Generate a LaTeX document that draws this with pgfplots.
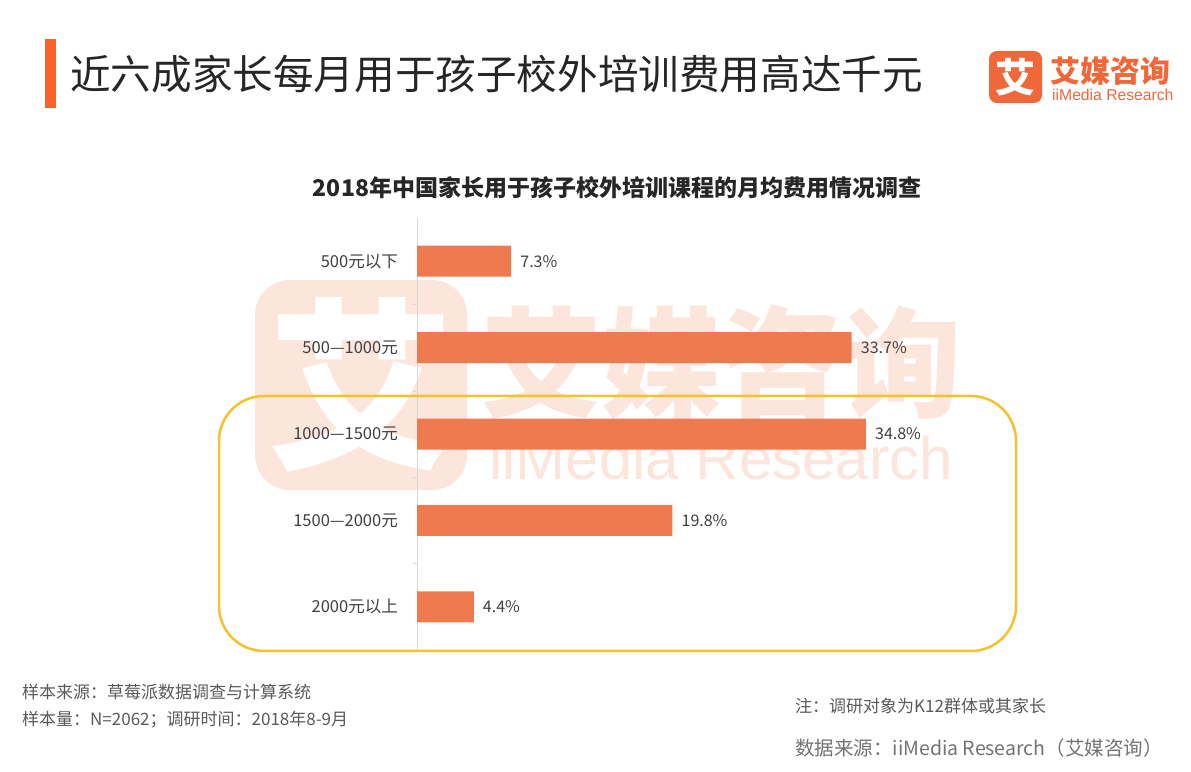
\documentclass[border=0pt]{standalone}
\usepackage{pgfplots}
\pgfplotsset{compat=1.18}
\usepackage{fontspec}
\setmainfont{Noto Sans CJK SC}
\newfontfamily\arial{Liberation Sans}
\definecolor{barc}{RGB}{240,122,80}
\definecolor{titlebar}{RGB}{247,99,45}
\definecolor{logoc}{RGB}{240,104,58}
\definecolor{wm}{RGB}{252,230,220}
\definecolor{wmt}{RGB}{252,229,218}
\definecolor{goldc}{RGB}{247,193,46}
\definecolor{axisgray}{RGB}{217,217,217}
\definecolor{titletext}{RGB}{38,38,38}
\definecolor{labtext}{RGB}{64,64,64}
\definecolor{foot}{RGB}{90,90,90}
\begin{document}
\begin{tikzpicture}[x=1pt,y=1pt]
\path[fill=white] (0,0) rectangle (1191,771);
% title
\fill[titlebar] (45,663) rectangle (56,732);
\node[anchor=west, inner sep=0pt, text=titletext, font=\fontsize{40.6}{46}\selectfont] at (70,697) {近六成家长每月用于孩子校外培训费用高达千元};
% logo
\fill[logoc, rounded corners=8pt] (989,668) rectangle (1042,720);
\node[text=white, font=\fontsize{40}{44}\selectfont\bfseries, inner sep=0pt] at (1015.5,694) {艾};
\node[anchor=west, inner sep=0pt, text=logoc, font=\fontsize{30}{34}\selectfont\bfseries] at (1050,700) {艾媒咨询};
\node[anchor=base west, inner sep=0pt, text=logoc, font=\arial\fontsize{15.7}{18}\selectfont] at (1052,670) {iiMedia Research};
% subtitle
\node[inner sep=0pt, text=titletext, font=\fontsize{23}{27}\selectfont\bfseries] at (617,583) {2018年中国家长用于孩子校外培训课程的月均费用情况调查};
% watermark
\fill[wm, rounded corners=35pt] (255,281) rectangle (467,491);
\node[text=white, font=\fontsize{185}{190}\selectfont\bfseries, inner sep=0pt] at (361,386) {艾};
\node[text=wmt, font=\fontsize{120}{125}\selectfont\bfseries, inner sep=0pt] at (721,409) {艾媒咨询};
\node[anchor=base, text=wmt, font=\arial\fontsize{60}{64}\selectfont, inner sep=0pt] at (721,291) {iiMedia Research};
% chart
\begin{axis}[
  at={(417pt,121pt)}, anchor=south west,
  width=516pt, height=432pt, scale only axis,
  xmin=0, xmax=40, ymin=-0.5, ymax=4.5,
  y dir=reverse,
  axis x line=none,
  axis y line*=left,
  axis line style={draw=axisgray, line width=0.8pt},
  ytick={0,1,2,3,4},
  yticklabels={500元以下, 500—1000元, 1000—1500元, 1500—2000元, 2000元以上},
  yticklabel style={font=\fontsize{16.5}{19}\selectfont, text=labtext, inner sep=0pt, anchor=east, xshift=-19pt},
  major tick length=0pt,
  minor ytick={0.5,1.5,2.5,3.5},
  minor tick length=4pt,
  tick align=outside,
  minor tick style={draw=axisgray, line width=0.6pt},
  clip=false,
]
\addplot[xbar, fill=barc, draw=none, bar width=31pt,
  point meta=explicit symbolic,
  nodes near coords,
  nodes near coords style={anchor=west, inner sep=0pt, xshift=9pt, text=labtext, font=\fontsize{16}{19}\selectfont}]
  coordinates {(7.3,0) [7.3\%] (33.7,1) [33.7\%] (34.8,2) [34.8\%] (19.8,3) [19.8\%] (4.4,4) [4.4\%]};
\end{axis}
% highlight box
\draw[goldc, line width=2.5pt, rounded corners=45pt] (219,120) rectangle (1016,375);
% footer
\node[anchor=west, inner sep=0pt, text=foot, font=\fontsize{17}{20}\selectfont] at (22,79) {样本来源：草莓派数据调查与计算系统};
\node[anchor=west, inner sep=0pt, text=foot, font=\fontsize{17}{20}\selectfont] at (22,51) {样本量：N=2062；调研时间：2018年8-9月};
\node[anchor=west, inner sep=0pt, text=foot, font=\fontsize{17}{20}\selectfont] at (795,65) {注：调研对象为K12群体或其家长};
\node[anchor=west, inner sep=0pt, text=foot!85, font=\fontsize{19.5}{23}\selectfont] at (795,23) {数据来源：iiMedia Research（艾媒咨询）};
\end{tikzpicture}
\end{document}
